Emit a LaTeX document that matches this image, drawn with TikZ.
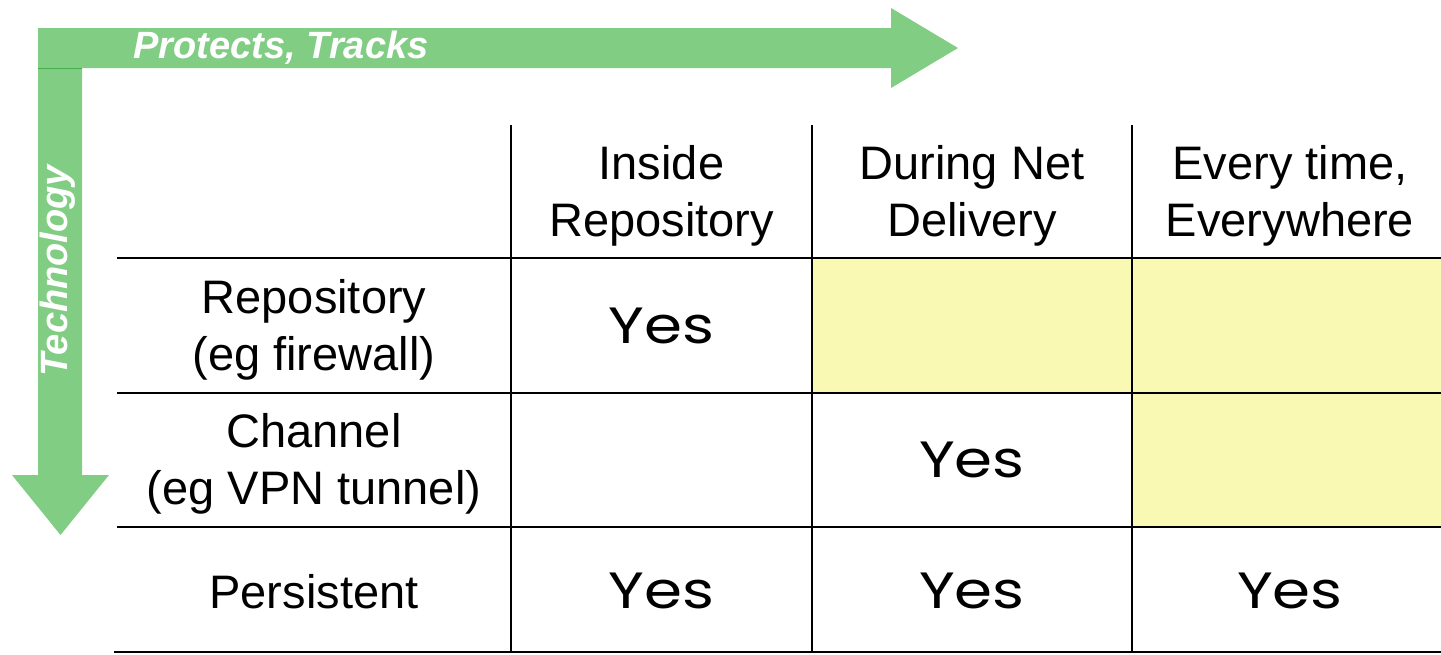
\documentclass[tikz,border=0pt]{standalone}
\usepackage{fontspec}
\setmainfont{Liberation Sans}
\newfontfamily\yesfont[FakeStretch=1.2]{Poppins}
\definecolor{arrowgreen}{RGB}{130,205,132}
\definecolor{edgegreen}{RGB}{70,175,75}
\definecolor{celly}{RGB}{249,249,180}
\begin{document}
\begin{tikzpicture}[x=1pt,y=-1pt,
  grid/.style={draw=black,line width=2pt},
  hdr/.style={align=center,inner sep=0pt,font=\fontsize{47}{57}\selectfont},
  yes/.style={inner sep=0pt,font=\yesfont\fontsize{51}{60}\selectfont},
  axislabel/.style={inner sep=0pt,text=white,font=\bfseries\itshape\fontsize{38}{44}\selectfont}]
\useasboundingbox (0,0) rectangle (1441,654);
% arrows
\fill[arrowgreen] (38,28) -- (891,28) -- (891,8) -- (958,48) -- (891,88) -- (891,68) -- (38,68) -- cycle;
\fill[arrowgreen] (38,68) -- (82,68) -- (82,475) -- (109,475) -- (60.5,535) -- (12,475) -- (38,475) -- cycle;
\draw[edgegreen,line width=1pt] (38,68) -- (82,68);
\node[axislabel] (protects) at (281,48) {Protects, Tracks};
\node[axislabel,rotate=90] (tech) at (58,271) {Technology};
% yellow cells
\fill[celly] (812,258) rectangle (1441,393);
\fill[celly] (1132,393) rectangle (1441,527);
% grid
\draw[grid] (117,258) -- (1441,258);
\draw[grid] (117,393) -- (1441,393);
\draw[grid] (117,527) -- (1441,527);
\draw[grid] (114,652) -- (1441,652);
\draw[grid] (511,125) -- (511,653);
\draw[grid] (812,125) -- (812,653);
\draw[grid] (1132,125) -- (1132,653);
% headers
\node[hdr] (c1) at (661.5,195.5) {Inside\\Repository};
\node[hdr] (c2) at (972,195.5) {During Net\\Delivery};
\node[hdr] (c3) at (1290,195.5) {Every time,\\Everywhere};
\node[hdr] (r1) at (314,329.5) {Repository\\(eg firewall)};
\node[hdr] (r2) at (314,464) {Channel\\(eg VPN tunnel)};
\node[hdr] (r3) at (314,592) {Persistent};
% cells
\node[yes] (y11) at (661.5,325.5) {Yes};
\node[yes] (y22) at (972,460) {Yes};
\node[yes] (y31) at (661.5,591) {Yes};
\node[yes] (y32) at (972,591) {Yes};
\node[yes] (y33) at (1290,591) {Yes};
\end{tikzpicture}
\end{document}
